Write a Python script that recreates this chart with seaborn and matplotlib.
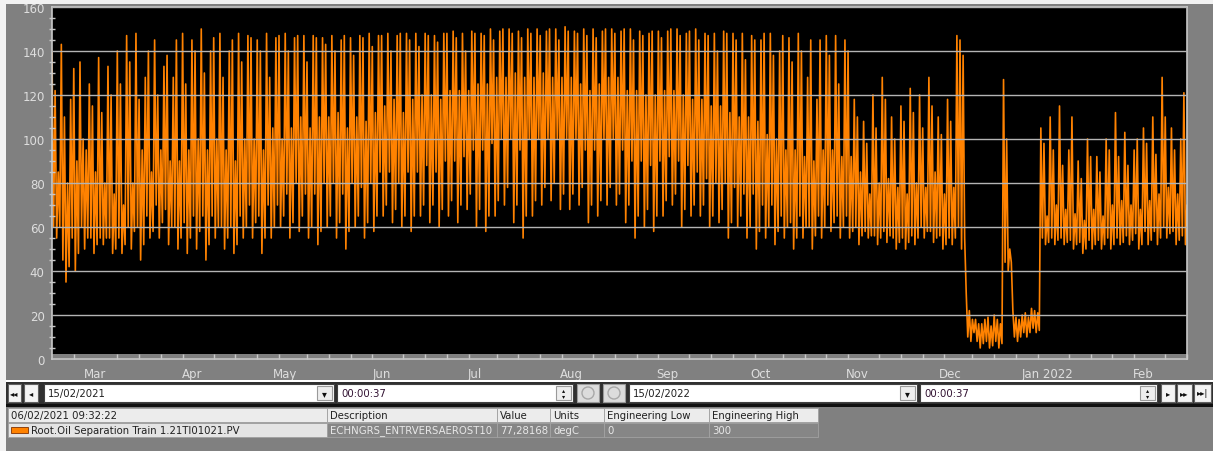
import numpy as np
import pandas as pd
import matplotlib
matplotlib.use("Agg")
import matplotlib.pyplot as plt
import matplotlib.dates as mdates
from matplotlib.patches import Rectangle, Circle
import seaborn as sns

# ---------------------------------------------------------------- data
start = pd.Timestamp("2021-02-15 00:00:37")
end = pd.Timestamp("2022-02-15 00:00:37")
step_days = 3  # one group of readings every 3 days

# highest spike within each 3-day group (degC)
peak = [140, 143, 118, 135, 125, 137, 133, 140, 147, 148,
        128, 145, 133, 128, 148, 145, 150, 140, 148, 140,
        148, 147, 145, 148, 146, 148, 146, 147, 147, 146,
        147, 145, 146, 147, 148, 147, 148, 147, 148, 148,
        148, 147, 148, 149, 148, 149, 148, 150, 149, 150,
        149, 150, 150, 149, 150, 151, 149, 150, 150, 149,
        150, 149, 150, 149, 148, 149, 149, 150, 148, 150,
        148, 148, 149, 148, 148, 147, 145, 148, 140, 146,
        148, 128, 118, 147, 147, 145, 118, 108, 120, 128,
        110, 115, 123, 120, 128, 110, 118, 147, 30, 18,
        18, 20, 127, 22, 20, 23, 105, 110, 115, 95,
        90, 100, 92, 100, 112, 103, 95, 105, 110, 128,
        105, 100]

# second spike within each group
peak2 = [122, 110, 132, 100, 115, 112, 120, 125, 135, 118,
         140, 120, 138, 145, 125, 140, 130, 146, 128, 145,
         135, 146, 140, 128, 147, 140, 147, 135, 146, 143,
         140, 147, 138, 146, 142, 147, 140, 148, 145, 142,
         147, 144, 148, 146, 140, 148, 147, 145, 150, 148,
         146, 148, 147, 150, 145, 149, 148, 147, 146, 150,
         148, 150, 145, 147, 149, 146, 150, 147, 149, 145,
         147, 140, 148, 145, 136, 145, 148, 138, 147, 135,
         140, 145, 145, 138, 125, 140, 110, 98, 105, 118,
         100, 108, 112, 105, 115, 102, 108, 145, 22, 16,
         19, 18, 100, 19, 21, 22, 98, 95, 88, 110,
         82, 92, 85, 95, 92, 88, 100, 98, 93, 110,
         95, 121]

# deepest dip within each group
trough = [55, 35, 40, 50, 48, 52, 48, 48, 50, 45,
          55, 55, 52, 50, 48, 50, 45, 55, 50, 48,
          55, 55, 48, 55, 60, 55, 58, 55, 52, 60,
          55, 50, 60, 55, 58, 65, 62, 60, 58, 65,
          62, 60, 65, 62, 68, 60, 58, 65, 70, 62,
          55, 65, 70, 72, 68, 68, 70, 62, 65, 70,
          70, 62, 55, 60, 58, 65, 70, 60, 65, 65,
          60, 62, 55, 60, 55, 50, 55, 52, 55, 50,
          55, 50, 55, 58, 55, 55, 52, 55, 52, 53,
          50, 50, 52, 55, 53, 50, 52, 50, 8, 5,
          5, 5, 40, 8, 10, 12, 52, 52, 52, 50,
          48, 50, 50, 50, 52, 52, 50, 52, 52, 55,
          52, 52]

# second dip within each group
trough2 = [60, 42, 48, 55, 52, 55, 50, 52, 58, 52,
           58, 62, 60, 55, 55, 58, 52, 60, 55, 52,
           60, 62, 55, 60, 65, 62, 65, 60, 58, 65,
           62, 58, 65, 62, 65, 70, 68, 65, 65, 70,
           70, 68, 72, 70, 75, 68, 65, 72, 78, 70,
           65, 72, 78, 80, 75, 75, 78, 70, 72, 78,
           75, 70, 65, 68, 65, 72, 75, 68, 70, 70,
           65, 68, 62, 65, 60, 58, 60, 58, 60, 55,
           60, 56, 60, 62, 60, 58, 56, 56, 55, 56,
           53, 53, 55, 58, 55, 52, 55, 55, 12, 7,
           6, 7, 44, 10, 12, 13, 53, 54, 53, 52,
           50, 52, 52, 52, 53, 54, 52, 54, 55, 57,
           54, 54]

# lower and upper edge of the band where most readings sit
core_lo = [60, 45, 55, 60, 55, 55, 55, 55, 60, 60,
           65, 70, 68, 60, 62, 65, 65, 65, 60, 60,
           65, 70, 65, 70, 70, 75, 80, 75, 75, 80,
           80, 75, 80, 78, 80, 85, 85, 80, 85, 85,
           88, 85, 90, 90, 92, 95, 95, 98, 100, 100,
           95, 100, 100, 100, 100, 100, 100, 95, 95, 100,
           100, 95, 90, 90, 88, 90, 92, 90, 88, 85,
           82, 80, 80, 78, 75, 75, 70, 70, 65, 62,
           65, 60, 65, 70, 65, 65, 60, 58, 56, 58,
           55, 55, 56, 60, 58, 56, 55, 60, 10, 8,
           8, 8, 44, 10, 12, 14, 55, 55, 55, 54,
           53, 54, 54, 55, 55, 56, 57, 58, 58, 60,
           58, 56]

core_hi = [85, 80, 90, 95, 85, 80, 75, 70, 80, 95,
           85, 95, 90, 90, 95, 100, 95, 100, 95, 90,
           100, 100, 95, 105, 100, 105, 110, 105, 110, 110,
           112, 105, 110, 108, 112, 115, 118, 112, 118, 120,
           120, 118, 122, 122, 122, 125, 125, 128, 128, 130,
           128, 128, 130, 128, 128, 128, 125, 122, 125, 128,
           128, 122, 122, 120, 120, 122, 122, 120, 118, 118,
           115, 115, 112, 110, 110, 108, 102, 100, 95, 95,
           92, 90, 95, 95, 92, 92, 85, 75, 80, 82,
           78, 75, 80, 78, 85, 75, 78, 138, 18, 16,
           15, 16, 50, 18, 19, 21, 65, 70, 68, 66,
           63, 68, 65, 70, 72, 70, 68, 72, 75, 78,
           75, 70]

month_ticks = ["2021-03-01", "2021-04-01", "2021-05-01", "2021-06-01",
               "2021-07-01", "2021-08-01", "2021-09-01", "2021-10-01",
               "2021-11-01", "2021-12-01", "2022-01-01", "2022-02-01"]
month_labels = ["Mar", "Apr", "May", "Jun", "Jul", "Aug", "Sep", "Oct",
                "Nov", "Dec", "Jan 2022", "Feb"]
y_ticks = [0, 20, 40, 60, 80, 100, 120, 140, 160]

start_date_text = "15/02/2021"
end_date_text = "15/02/2022"
time_text = "00:00:37"
legend_header = ["06/02/2021 09:32:22", "Description", "Value", "Units",
                 "Engineering Low", "Engineering High"]
legend_row = ["Root.Oil Separation Train 1.21TI01021.PV",
              "ECHNGRS_ENTRVERSAEROST10", "77,28168", "degC", "0", "300"]

# ---------------------------------------------------------------- style
ORANGE = "#ff8200"
GRAY_BG = "#808080"
LIGHT = "#dedede"
W, H = 1213, 452

sns.set_theme(style="dark")
plt.rcParams["font.family"] = ["DejaVu Sans"]

# each 3-day group is traced as six readings half a day apart
t_vals, y_vals = [], []
for k in range(len(peak)):
    group = (peak[k], core_lo[k], peak2[k], trough[k], core_hi[k], trough2[k])
    for i, val in enumerate(group):
        t_vals.append(start + pd.Timedelta(days=k * step_days + 0.5 * i))
        y_vals.append(val)
trace = pd.DataFrame({"time": t_vals, "value": y_vals})

fig = plt.figure(figsize=(W / 100, H / 100), dpi=100, facecolor=GRAY_BG)

ax = fig.add_axes([52 / W, 1 - 360 / H, 1135 / W, 352 / H])
ax.set_facecolor(GRAY_BG)
ax.add_patch(Rectangle((0, 5 / 352), 1, 1 - 5 / 352, transform=ax.transAxes,
                       facecolor="black", edgecolor="none", zorder=0))

sns.lineplot(data=trace, x="time", y="value", ax=ax, color=ORANGE,
             linewidth=1.2, estimator=None, sort=False, legend=False, zorder=2)

ax.set_xlim(start, end)
ax.set_ylim(0, 160)
ax.set_xlabel("")
ax.set_ylabel("")

ax.set_yticks(y_ticks)
ax.set_yticklabels([str(v) for v in y_ticks])
ax.yaxis.set_minor_locator(matplotlib.ticker.MultipleLocator(5))
ax.set_xticks(pd.to_datetime(month_ticks))
ax.set_xticklabels(month_labels)
ax.xaxis.set_minor_locator(mdates.DayLocator(bymonthday=[8, 15, 22, 29]))

ax.grid(False)
ax.set_axisbelow(False)
ax.yaxis.grid(True, which="major", color="#b4b4b4", linewidth=1.0)

ax.tick_params(axis="y", which="major", direction="out", length=3.8, width=1,
               color="#c8c8c8", labelcolor=LIGHT, labelsize=8.5, pad=1.5)
ax.tick_params(axis="y", which="minor", direction="inout", length=4, width=1,
               color="#c8c8c8", left=True)
ax.tick_params(axis="x", which="major", direction="inout", length=10, width=1,
               color="#c8c8c8", labelcolor=LIGHT, labelsize=8.5, pad=1)
ax.tick_params(axis="x", which="minor", direction="in", length=3.6, width=1,
               color="#c8c8c8", bottom=True)
for side in ("left", "right", "top", "bottom"):
    ax.spines[side].set_visible(True)
    ax.spines[side].set_color("#c8c8c8")
    ax.spines[side].set_linewidth(1.2)

# ---------------------------------------------------------------- window chrome
ui = fig.add_axes([0, 0, 1, 1], zorder=5)
ui.set_xlim(0, W)
ui.set_ylim(H, 0)
ui.axis("off")
ui.patch.set_alpha(0)


def box(x0, y0, x1, y1, fc, ec="none", lw=0.8):
    ui.add_patch(Rectangle((x0, y0), x1 - x0, y1 - y0, facecolor=fc,
                           edgecolor=ec, linewidth=lw))


def label(x, y, s, color="#101010", size=7.3, ha="left"):
    ui.text(x, y, s, color=color, fontsize=size, ha=ha, va="center")


box(0, 0, W, 5, "#f2f2f2")
box(0, 0, 6, H, "#f2f2f2")
box(6, 381, W, 383, "#ffffff")

# navigation bar
TOP, BOT = 384, 404
box(6, TOP - 1, W, BOT + 1, "#303030")


def button(x0, x1, glyph):
    box(x0, TOP + 1, x1, BOT - 1, "#f4f4f4", "#606060")
    label((x0 + x1) / 2, (TOP + BOT) / 2, glyph, size=6, ha="center")


def field(x0, x1, text, kind):
    box(x0, TOP + 1, x1, BOT - 1, "#ffffff", "#404040")
    label(x0 + 4, (TOP + BOT) / 2, text, color="#202020" if kind == "drop" else "#301030")
    bx0 = x1 - 17
    box(bx0, TOP + 3, x1 - 2, BOT - 3, "#eeeeee", "#9a9a9a")
    if kind == "drop":
        label((bx0 + x1 - 2) / 2, (TOP + BOT) / 2, "▾", size=7, ha="center")
    else:
        label((bx0 + x1 - 2) / 2, (TOP + BOT) / 2 - 3, "▴", size=4.5, ha="center")
        label((bx0 + x1 - 2) / 2, (TOP + BOT) / 2 + 3, "▾", size=4.5, ha="center")


button(8, 21, "◂◂")
button(24, 38, "◂")
field(44, 334, start_date_text, "drop")
field(337, 573, time_text, "spin")
for cx in (588, 614):
    box(cx - 11, TOP + 1, cx + 11, BOT - 1, "#dcdcdc", "#9a9a9a")
    ui.add_patch(Circle((cx, (TOP + BOT) / 2), 6, facecolor="none",
                        edgecolor="#a8a8a8", linewidth=1))
field(629, 917, end_date_text, "drop")
field(920, 1157, time_text, "spin")
button(1161, 1175, "▸")
button(1177, 1192, "▸▸")
button(1194, 1211, "▸▸|")

# legend table
box(6, 405, W, 408, "#101010")
col_x = [8, 327, 497, 550, 604, 709, 818]
for i, txt in enumerate(legend_header):
    box(col_x[i], 409, col_x[i + 1], 423, "#ececec", "#a0a0a0", 0.6)
    label(col_x[i] + 3, 416, txt, color="#202020")
box(col_x[0], 424, col_x[1], 438, "#e4e4e4", "#a0a0a0", 0.6)
box(11, 427.5, 28, 434, ORANGE, "#803000", 0.6)
label(31, 431, legend_row[0], color="#202020")
for i in range(1, 6):
    box(col_x[i], 424, col_x[i + 1], 438, "#868686", "#a8a8a8", 0.5)
    label(col_x[i] + 3, 431, legend_row[i], color="#e8e8e8")

fig.savefig("out.png", dpi=100, facecolor=GRAY_BG)
